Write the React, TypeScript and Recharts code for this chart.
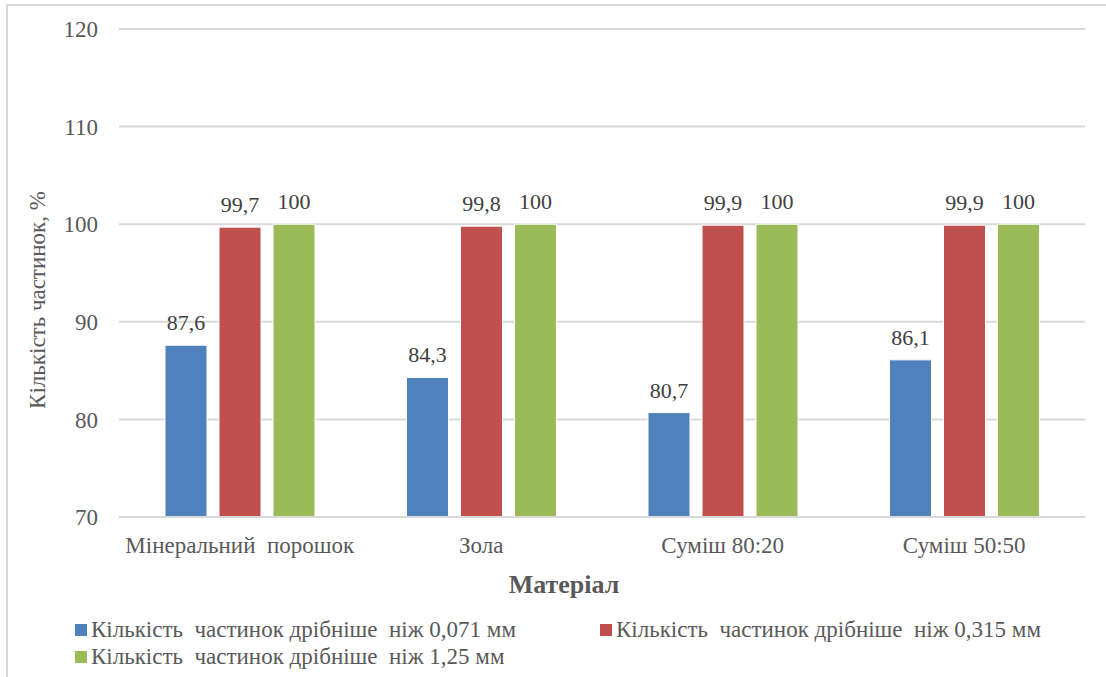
import React from "react";
import { BarChart, Bar, XAxis, YAxis, CartesianGrid, LabelList } from "recharts";

const CATEGORIES = ["Мінеральний\u00a0 порошок", "Зола", "Суміш 80:20", "Суміш 50:50"];
const FINER_0071 = [87.6, 84.3, 80.7, 86.1];
const FINER_0315 = [99.7, 99.8, 99.9, 99.9];
const FINER_125 = [100, 100, 100, 100];
const Y_TICKS = [70, 80, 90, 100, 110, 120];

const SERIES = [
  { key: "f0071", name: "Кількість  частинок дрібніше  ніж 0,071 мм", color: "#4f81bd", values: FINER_0071 },
  { key: "f0315", name: "Кількість  частинок дрібніше  ніж 0,315 мм", color: "#c0504d", values: FINER_0315 },
  { key: "f125", name: "Кількість  частинок дрібніше  ніж 1,25 мм", color: "#9bbb59", values: FINER_125 },
];

const data = CATEGORIES.map((name, i) => {
  const row: Record<string, string | number> = { name };
  SERIES.forEach((s) => (row[s.key] = s.values[i]));
  return row;
});

const FONT = "Liberation Serif";
const fmt = (v: unknown) => String(v).replace(".", ",");

// legend slots: two columns, wrapping onto a second row
const LEGEND_POS = [
  { left: 75, top: 617 },
  { left: 600, top: 617 },
  { left: 75, top: 644 },
];

export default function App() {
  return (
    <div style={{ position: "absolute", left: 0, top: 0, width: 1106, height: 677, overflow: "hidden", background: "#fff", fontFamily: FONT }}>
      <div style={{ position: "absolute", left: 6, top: 4, width: 1200, height: 800, border: "2px solid #d9d9d9" }} />
      <div style={{ position: "absolute", left: 0, top: 0 }}>
        <BarChart
          width={1106}
          height={677}
          data={data}
          margin={{ top: 29, right: 21, left: 0, bottom: 120 }}
          barCategoryGap={46}
          barGap={12}
        >
          <CartesianGrid vertical={false} stroke="#d9d9d9" strokeWidth={2} />
          <XAxis
            dataKey="name"
            height={40}
            axisLine={{ stroke: "#d9d9d9", strokeWidth: 2 }}
            tickLine={false}
            tickMargin={14}
            tick={{ fontSize: 23, fill: "#595959", fontFamily: FONT }}
          />
          <YAxis
            width={119}
            domain={[70, 120]}
            ticks={Y_TICKS}
            axisLine={false}
            tickLine={false}
            tickMargin={15}
            tick={{ fontSize: 23, fill: "#595959", fontFamily: FONT }}
          />
          {SERIES.map((s) => (
            <Bar key={s.key} dataKey={s.key} name={s.name} fill={s.color} stroke="#fff" strokeWidth={1} isAnimationActive={false}>
              <LabelList dataKey={s.key} position="top" offset={15} formatter={fmt} fill="#404040" fontSize={22} fontFamily={FONT} />
            </Bar>
          ))}
          <text x={37} y={300} transform="rotate(-90 37 300)" textAnchor="middle" dominantBaseline="central" fontSize={23} fill="#595959" fontFamily={FONT}>
            Кількість частинок, %
          </text>
          <text x={564} y={584} textAnchor="middle" dominantBaseline="central" fontSize={26} fontWeight="bold" fill="#595959" fontFamily={FONT}>
            Матеріал
          </text>
        </BarChart>
      </div>
      {SERIES.map((s, i) => (
        <div key={s.key} style={{ position: "absolute", left: LEGEND_POS[i].left, top: LEGEND_POS[i].top, display: "flex", alignItems: "center", fontSize: 23, color: "#595959", whiteSpace: "pre" }}>
          <span style={{ width: 12, height: 12, background: s.color, marginRight: 4, display: "inline-block" }} />
          <span>{s.name}</span>
        </div>
      ))}
    </div>
  );
}
